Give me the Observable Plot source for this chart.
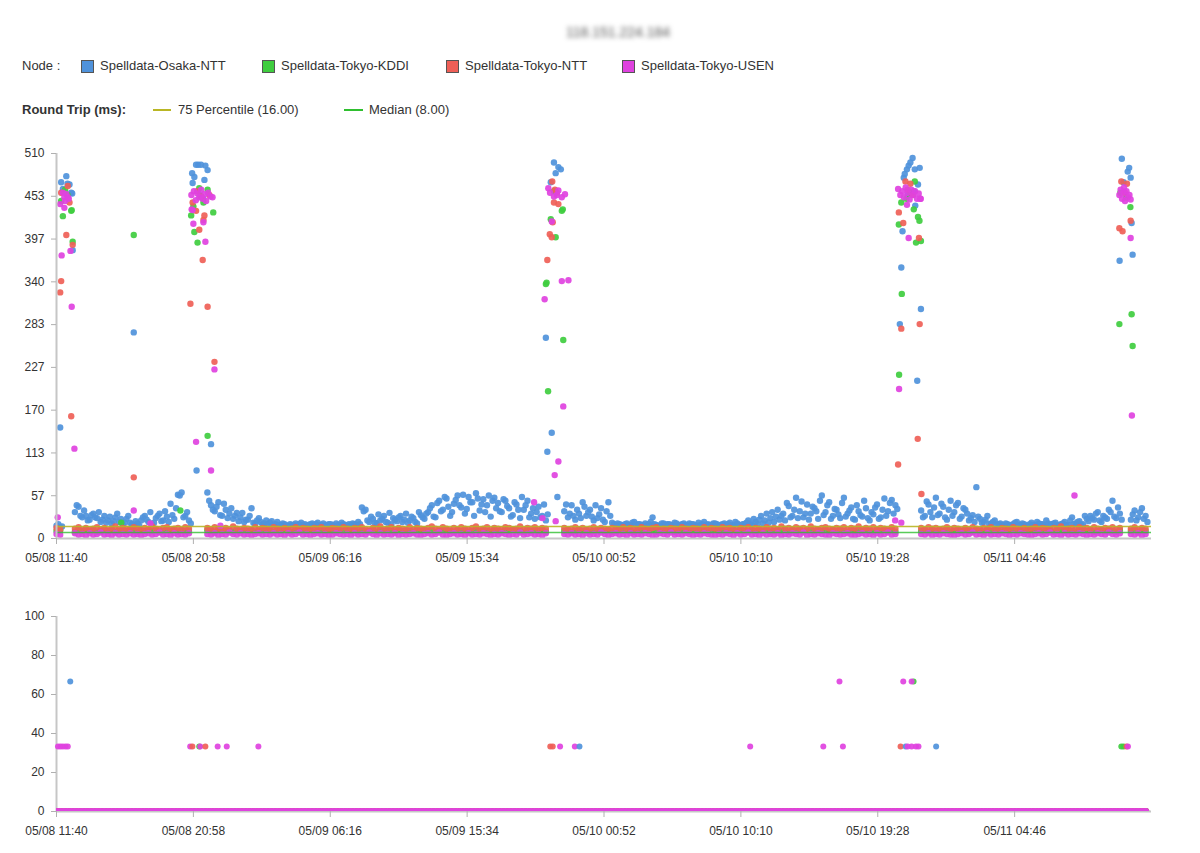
<!DOCTYPE html>
<html>
<head>
<meta charset="utf-8">
<script src="https://cdn.jsdelivr.net/npm/d3@7"></script>
<script src="https://cdn.jsdelivr.net/npm/@observablehq/plot@0.6"></script>
<style>
  body { margin: 0; background: #fff; font-family: "Liberation Sans", Arial, sans-serif; color: #333; }
  #page { position: relative; width: 1200px; height: 853px; overflow: hidden; }
  .abs { position: absolute; white-space: nowrap; }
  #title { left: 566px; top: 24px; font-size: 14px; color: #555; filter: blur(2.4px); }
  .lg { font-size: 13px; line-height: 16px; color: #333; }
  .sw { width: 11px; height: 11px; border: 1px solid #555; }
  .ln { height: 2px; }
  #upper { left: 0; top: 130px; }
  #lower { left: 0; top: 590px; }
</style>
</head>
<body>
<div id="page">
  <div id="title" class="abs">118.151.224.184</div>
  <div id="legend"></div>
  <div id="upper" class="abs"></div>
  <div id="lower" class="abs"></div>
</div>
<script>
// Probe nodes and their colours
const nodes = ["Spelldata-Osaka-NTT", "Spelldata-Tokyo-KDDI", "Spelldata-Tokyo-NTT", "Spelldata-Tokyo-USEN"];
const nodeColors = ["#4f92db", "#3fcd3f", "#ef5f57", "#df42df"];

// Summary statistics of the round trip (ms)
const p75 = 16;
const median = 8;
const p75Color = "#b9b624";
const medianColor = "#2fbf2f";

// Axis ticks
const xTickLabels = ["05/08 11:40", "05/08 20:58", "05/09 06:16", "05/09 15:34", "05/10 00:52", "05/10 10:10", "05/10 19:28", "05/11 04:46"];
const xDomainLabels = ["05/08 11:40", "05/11 14:04"];
const rttTicks = [0, 56.67, 113.33, 170, 226.67, 283.33, 340, 396.67, 453.33, 510];
const lossTicks = [0, 20, 40, 60, 80, 100];

// Round trip samples every 15 minutes (ms); null where the probe sat in a peak window
const sampleStep = 15;
const osakaRtt = [
  17, 15, null, null, null, 35, 42, 28, 30, 25,
  33, 27, 22, 30, 24, 20, 28, 22, 19, 26,
  21, 18, 20, 24, 30, 22, 19, 27, 33, 24,
  29, 46, 26, 58, 61, 30, 24, null, null, null,
  null, 61, 44, 36, 48, 30, 38, 33, 26, 34,
  28, 22, 25, 40, 20, 27, 19, 24, 21, 18,
  22, 18, 19, 17, 18, 20, 19, 18, 17, 19,
  18, 21, 18, 17, 19, 18, 20, 18, 19, 17,
  18, 19, 22, 41, 38, 22, 26, 20, 24, 30,
  21, 19, 25, 28, 22, 33, 24, 27, 20, 31,
  26, 35, 44, 28, 50, 38, 53, 30, 46, 57,
  41, 33, 55, 48, 60, 37, 52, 44, 29, 54,
  47, 35, 50, 40, 31, 45, 27, 38, 50, 33,
  26, 42, 30, 24, null, null, null, null, 36, 28,
  44, 25, 33, 48, 30, 38, 24, 27, 40, 22,
  48, 21, 18, 19, 17, 20, 18, 22, 19, 18,
  20, 19, 28, 18, 17, 20, 19, 18, 21, 17,
  19, 18, 20, 19, 17, 18, 22, 19, 18, 20,
  17, 19, 18, 21, 18, 20, 17, 19, 24, 18,
  22, 25, 20, 33, 27, 22, 38, 30, 24, 43,
  30, 54, 36, 28, 45, 33, 40, 26, 57, 35,
  48, 30, 38, 27, 54, 33, 41, 25, 36, 29,
  40, 24, 32, 45, 28, 53, 36, 51, 44, null,
  null, null, null, null, null, 37, 30, 45, 28, 54,
  33, 42, 25, 50, 35, 47, 29, 38, 24, 31,
  68, 26, 22, 30, 20, 24, 19, 18, 20, 17,
  19, 22, 18, 19, 17, 21, 18, 20, 19, 24,
  18, 20, 17, 19, 22, 18, 28, 20, 23, 19,
  26, 30, 25, 35, 22, 28, 38, 50, 27, 33,
  null, null, 25, 37, 28, 40, 30
];
// Osaka probes a second time in every slot, 7.5 minutes later
const osakaRttLate = [
  19, 16, null, null, null, 44, 30, 37, 24, 31,
  28, 35, 25, 21, 29, 23, 33, 26, 21, 30,
  19, 23, 17, 28, 25, 35, 21, 30, 23, 36,
  22, 31, 40, 57, 28, 35, 20, null, null, null,
  null, 50, 38, 42, 31, 46, 27, 40, 30, 23,
  34, 25, 30, 21, 24, 22, 20, 18, 23, 19,
  18, 20, 17, 19, 18, 17, 21, 19, 18, 20,
  19, 17, 20, 18, 19, 17, 18, 21, 18, 19,
  20, 18, 19, 36, 24, 29, 21, 32, 26, 22,
  34, 27, 23, 30, 25, 21, 29, 22, 35, 28,
  33, 40, 29, 47, 36, 55, 42, 35, 51, 44,
  58, 39, 48, 30, 53, 45, 35, 57, 50, 40,
  36, 52, 43, 29, 48, 38, 55, 44, 28, 40,
  35, 28, 45, 32, null, null, null, null, 45, 33,
  30, 38, 27, 42, 35, 29, 44, 32, 25, 36,
  30, 19, 20, 18, 19, 17, 21, 18, 19, 17,
  18, 22, 19, 17, 20, 18, 19, 17, 20, 18,
  20, 17, 19, 18, 21, 19, 17, 18, 20, 19,
  18, 20, 19, 17, 22, 18, 19, 21, 20, 26,
  19, 30, 24, 21, 35, 29, 25, 33, 47, 28,
  38, 27, 49, 33, 25, 42, 36, 50, 31, 44,
  26, 39, 32, 47, 29, 37, 26, 44, 31, 50,
  27, 35, 41, 26, 38, 30, 47, 33, 39, null,
  null, null, null, null, null, 28, 49, 35, 41, 31,
  46, 28, 38, 30, 44, 26, 40, 33, 27, 22,
  29, 21, 25, 19, 22, 18, 20, 17, 19, 18,
  21, 18, 20, 17, 19, 18, 22, 19, 17, 20,
  19, 21, 18, 20, 17, 24, 19, 22, 18, 30,
  23, 27, 33, 24, 30, 26, 35, 29, 41, 25,
  null, null, 32, 24, 35, 26, 22
];
const kddiRtt = [
  10, 11, null, null, null, 9, 11, 10, 12, 10,
  11, 9, 10, 12, 10, 11, 9, 10, 11, 10,
  12, 10, 9, 11, 10, 12, 10, 11, 9, 10,
  11, 10, 12, 9, 11, 10, 10, null, null, null,
  null, 11, 10, 9, 12, 10, 11, 10, 9, 11,
  10, 12, 10, 11, 9, 10, 11, 12, 10, 9,
  11, 10, 12, 10, 9, 11, 10, 11, 10, 12,
  9, 10, 11, 10, 12, 10, 9, 11, 10, 11,
  10, 12, 9, 11, 10, 10, 11, 9, 12, 10,
  11, 10, 9, 12, 10, 11, 10, 9, 11, 10,
  12, 10, 11, 9, 10, 11, 12, 10, 9, 11,
  10, 11, 9, 10, 12, 10, 11, 10, 9, 12,
  10, 9, 11, 10, 12, 11, 10, 9, 11, 10,
  12, 10, 11, 9, null, null, null, null, 10, 11,
  9, 10, 12, 10, 11, 9, 10, 11, 12, 10,
  11, 9, 10, 12, 10, 11, 10, 9, 11, 10,
  12, 10, 11, 9, 10, 11, 10, 12, 9, 10,
  11, 10, 9, 12, 10, 11, 10, 9, 11, 12,
  10, 11, 9, 10, 12, 10, 11, 10, 9, 11,
  10, 12, 10, 11, 9, 10, 11, 10, 12, 9,
  11, 10, 12, 9, 10, 11, 10, 12, 10, 11,
  9, 11, 10, 12, 10, 9, 11, 10, 11, 10,
  12, 10, 9, 11, 10, 12, 10, 11, 9, null,
  null, null, null, null, null, 10, 11, 9, 12, 10,
  11, 10, 12, 9, 10, 11, 10, 12, 10, 9,
  11, 10, 9, 12, 10, 11, 10, 9, 11, 10,
  12, 10, 11, 9, 10, 12, 10, 11, 9, 10,
  11, 9, 10, 12, 10, 11, 10, 9, 12, 10,
  10, 11, 9, 10, 12, 10, 11, 10, 9, 11,
  null, null, 10, 12, 9, 11, 10
];
const tokyoNttRtt = [
  14, 12, null, null, null, 13, 15, 11, 14, 12,
  13, 15, 12, 14, 11, 13, 16, 12, 14, 13,
  12, 15, 13, 11, 14, 12, 16, 13, 12, 14,
  15, 12, 13, 14, 11, 15, 13, null, null, null,
  null, 14, 12, 15, 13, 11, 14, 12, 16, 13,
  12, 14, 13, 11, 15, 12, 14, 13, 12, 15,
  13, 12, 14, 11, 13, 15, 12, 14, 13, 12,
  14, 13, 15, 12, 11, 14, 13, 12, 15, 13,
  12, 14, 13, 15, 12, 11, 14, 13, 16, 12,
  13, 15, 12, 14, 13, 11, 15, 12, 14, 13,
  12, 14, 16, 13, 12, 15, 13, 11, 14, 12,
  15, 13, 12, 14, 16, 12, 13, 15, 11, 14,
  13, 12, 15, 14, 12, 13, 16, 12, 14, 13,
  15, 12, 14, 13, null, null, null, null, 14, 12,
  13, 15, 12, 14, 11, 13, 15, 12, 14, 13,
  12, 14, 13, 11, 15, 12, 14, 13, 12, 15,
  13, 12, 14, 15, 12, 13, 11, 14, 13, 12,
  15, 13, 12, 14, 13, 11, 15, 12, 14, 13,
  12, 15, 13, 14, 12, 11, 14, 13, 15, 12,
  14, 13, 12, 15, 13, 14, 12, 16, 13, 14,
  12, 15, 13, 14, 12, 16, 13, 12, 14, 15,
  13, 12, 14, 13, 15, 12, 14, 13, 16, 12,
  14, 13, 15, 12, 14, 13, 12, 15, 13, null,
  null, null, null, null, null, 14, 12, 15, 13, 14,
  12, 13, 15, 12, 14, 13, 11, 14, 12, 15,
  13, 12, 14, 13, 15, 12, 11, 14, 13, 12,
  15, 13, 12, 14, 11, 13, 15, 12, 14, 13,
  12, 14, 13, 16, 12, 13, 14, 12, 15, 13,
  14, 12, 15, 13, 12, 14, 13, 15, 12, 14,
  null, null, 13, 15, 12, 14, 13
];
const usenRtt = [
  6, 5, null, null, null, 7, 5, 6, 4, 7,
  5, 6, 8, 5, 6, 4, 7, 5, 6, 5,
  7, 5, 6, 4, 6, 7, 5, 6, 8, 5,
  6, 4, 7, 5, 6, 5, 7, null, null, null,
  null, 6, 5, 7, 4, 6, 5, 8, 6, 5,
  7, 5, 6, 4, 6, 7, 5, 6, 5, 7,
  5, 6, 4, 7, 5, 6, 8, 5, 6, 4,
  6, 7, 5, 6, 4, 5, 7, 6, 5, 6,
  4, 7, 5, 6, 5, 8, 6, 4, 7, 5,
  6, 5, 7, 4, 6, 5, 6, 7, 5, 4,
  6, 7, 5, 6, 8, 5, 4, 6, 7, 5,
  6, 4, 7, 5, 6, 5, 7, 6, 4, 6,
  5, 7, 6, 4, 6, 5, 8, 5, 6, 7,
  5, 6, 4, 7, null, null, null, null, 6, 5,
  7, 5, 6, 4, 7, 5, 6, 5, 8, 6,
  4, 6, 7, 5, 6, 4, 7, 5, 6, 5,
  7, 6, 4, 5, 7, 6, 5, 8, 5, 6,
  5, 7, 6, 4, 6, 5, 7, 6, 5, 4,
  6, 5, 7, 6, 4, 7, 5, 6, 8, 5,
  6, 4, 7, 5, 6, 5, 7, 4, 6, 5,
  7, 6, 5, 8, 4, 6, 5, 7, 6, 5,
  4, 7, 6, 5, 6, 7, 5, 4, 6, 7,
  5, 6, 4, 7, 5, 6, 8, 5, 6, null,
  null, null, null, null, null, 6, 5, 7, 4, 6,
  5, 7, 6, 5, 4, 6, 7, 5, 6, 8,
  5, 6, 4, 7, 5, 6, 5, 7, 6, 4,
  6, 5, 7, 6, 5, 4, 6, 7, 5, 6,
  8, 5, 6, 4, 7, 5, 6, 5, 7, 6,
  4, 6, 5, 7, 6, 5, 8, 6, 5, 7,
  null, null, 6, 5, 7, 4, 6
];

// Individual samples during the peaks and other outliers: [minutes after start, ms]
const osakaPeaks = [
  [15, 147], [19, 472], [26, 463], [40, 480], [45, 470], [53, 469], [60, 458], [64, 457], [66, 382],
  [315, 273],
  [553, 484], [555, 471], [562, 479], [569, 495], [571, 90], [578, 495], [585, 455], [589, 495], [598, 450],
  [603, 475], [607, 494], [616, 488], [630, 125],
  [1995, 266], [2001, 115], [2015, 472], [2019, 140], [2028, 498], [2035, 484], [2042, 55], [2046, 492], [2056, 489],
  [3438, 284], [3444, 359], [3449, 407], [3454, 478], [3458, 483], [3467, 489], [3470, 455], [3474, 494], [3481, 498],
  [3490, 504], [3495, 460], [3499, 489], [3501, 441], [3509, 209], [3512, 469], [3519, 491], [3524, 304],
  [4334, 368], [4343, 503], [4350, 472], [4367, 486], [4373, 491], [4379, 478], [4383, 418], [4387, 376]
];
const kddiPeaks = [
  [19, 447], [26, 427], [35, 462], [45, 455], [60, 434], [62, 435], [66, 393],
  [264, 21], [315, 402], [505, 37],
  [549, 428], [558, 440], [562, 406], [575, 392], [582, 464], [589, 453], [599, 445], [616, 462], [616, 136], [639, 432],
  [1995, 337], [1998, 339], [2004, 195], [2015, 423], [2028, 460], [2035, 399], [2060, 434], [2064, 436], [2066, 263],
  [3434, 416], [3435, 217], [3444, 445], [3446, 324], [3465, 450], [3480, 458], [3495, 436], [3499, 473], [3504, 392],
  [3512, 426], [3518, 421], [3524, 394],
  [4333, 284], [4337, 458], [4360, 452], [4378, 439], [4383, 297], [4387, 255]
];
const tokyoNttPeaks = [
  [15, 326], [19, 341], [19, 458], [40, 402], [46, 467], [53, 445], [60, 162], [66, 389],
  [315, 81],
  [546, 311], [555, 445], [569, 434], [574, 460], [582, 409], [591, 453], [596, 369], [599, 422], [603, 428],
  [616, 307], [623, 455], [644, 234],
  [2001, 369], [2011, 403], [2019, 399], [2021, 473], [2023, 419], [2028, 445], [2032, 462], [2040, 458], [2046, 443],
  [3431, 98], [3434, 432], [3444, 278], [3452, 418], [3461, 473], [3470, 462], [3481, 470], [3490, 455], [3511, 132],
  [3516, 398], [3519, 284], [3526, 59],
  [4333, 411], [4341, 473], [4346, 407], [4355, 458], [4364, 470], [4379, 421]
];
const usenPeaks = [
  [5, 28], [15, 443], [21, 375], [26, 458], [32, 438], [32, 452], [35, 447], [40, 456], [46, 452], [50, 450],
  [57, 381], [62, 307], [73, 119],
  [315, 37], [383, 20], [668, 17],
  [550, 455], [551, 436], [555, 435], [558, 417], [560, 460], [568, 448], [569, 128], [575, 457], [582, 452], [590, 462],
  [596, 450], [599, 419], [603, 456], [607, 393], [610, 447], [618, 458], [628, 453], [630, 90], [636, 452], [644, 224],
  [1947, 48], [1981, 27], [1990, 317], [2005, 464], [2012, 458], [2019, 420], [2028, 453], [2031, 84], [2035, 23],
  [2040, 455], [2046, 461], [2046, 102], [2060, 452], [2060, 341], [2066, 175], [2073, 456], [2087, 342],
  [3419, 24], [3431, 463], [3435, 198], [3440, 455], [3444, 21], [3448, 460], [3455, 452], [3462, 465], [3467, 442],
  [3470, 458], [3474, 398], [3478, 449], [3485, 462], [3492, 455], [3500, 460], [3508, 450], [3515, 457], [3522, 450], [3523, 450],
  [4150, 57],
  [4333, 455], [4338, 462], [4344, 450], [4350, 458], [4352, 465], [4356, 447], [4362, 460], [4368, 452], [4374, 455],
  [4379, 449], [4379, 398], [4384, 163]
];

// Packet loss (%) above zero: [node index, minutes after start, percent]; every other sample lost nothing
const lossEvents = [
  [3, 6, 33.33], [3, 16, 33.33], [3, 26, 33.33], [3, 37, 33.33], [3, 46, 33.33], [0, 56, 66.67],
  [3, 545, 33.33], [2, 554, 33.33], [1, 582, 33.33], [3, 586, 33.33], [2, 607, 33.33], [3, 657, 33.33], [3, 694, 33.33], [3, 823, 33.33],
  [2, 2013, 33.33], [2, 2023, 33.33], [3, 2053, 33.33], [3, 2113, 33.33], [0, 2132, 33.33],
  [3, 2828, 33.33], [3, 3126, 33.33], [3, 3206, 33.33], [3, 3192, 66.67],
  [2, 3441, 33.33], [0, 3462, 33.33], [3, 3470, 33.33], [3, 3486, 33.33], [3, 3504, 33.33], [3, 3514, 33.33], [0, 3586, 33.33],
  [3, 3452, 66.67], [1, 3494, 66.67], [3, 3486, 66.67],
  [1, 4341, 33.33], [1, 4350, 33.33], [2, 4362, 33.33], [3, 4368, 33.33]
];

// ---- build the tables ----
const parseTick = s => d3.timeParse("%Y/%m/%d %H:%M")("2019/" + s);
const fmtTick = d3.timeFormat("%m/%d %H:%M");
const xTicks = xTickLabels.map(parseTick);
const xDomain = xDomainLabels.map(parseTick);
const t0 = xDomain[0];
const at = m => new Date(+t0 + m * 60000);

// each entry: [node index, samples, offset within the slot in minutes]
const baselines = [[0, osakaRtt, 0], [0, osakaRttLate, 7.5], [1, kddiRtt, 0], [2, tokyoNttRtt, 0], [3, usenRtt, 0]];
const peaks = [osakaPeaks, kddiPeaks, tokyoNttPeaks, usenPeaks];

const rtt = [];
const lossZero = [];
nodes.forEach((node, k) => {
  baselines.filter(b => b[0] === k).forEach(([, samples, offset]) => {
    samples.forEach((v, i) => {
      const time = at(i * sampleStep + offset);
      if (v != null) rtt.push({node, time, value: v});
      if (offset === 0) lossZero.push({node, time, value: 0});
    });
  });
  peaks[k].forEach(([m, v]) => rtt.push({node, time: at(m), value: v}));
});
const loss = lossEvents.map(([k, m, v]) => ({node: nodes[k], time: at(m), value: v}));

// ---- legend ----
const legend = document.getElementById("legend");
const add = (html, style, cls) => {
  const el = document.createElement("div");
  el.className = "abs " + (cls || "");
  el.innerHTML = html;
  Object.assign(el.style, style);
  legend.appendChild(el);
  return el;
};
add("Node :", {left: "22px", top: "58px"}, "lg");
const swatchX = [81, 262, 446, 622];
nodes.forEach((n, k) => {
  add("", {left: swatchX[k] + "px", top: "60px", background: nodeColors[k]}, "sw");
  add(n, {left: (swatchX[k] + 19) + "px", top: "58px"}, "lg");
});
add("<b>Round Trip (ms):</b>", {left: "22px", top: "102px"}, "lg");
add("", {left: "153px", top: "109px", width: "18px", background: p75Color}, "ln");
add(`75 Percentile (${p75.toFixed(2)})`, {left: "178px", top: "102px"}, "lg");
add("", {left: "344px", top: "109px", width: "19px", background: medianColor}, "ln");
add(`Median (${median.toFixed(2)})`, {left: "369px", top: "102px"}, "lg");

// ---- charts ----
const color = {domain: nodes, range: nodeColors};
const style = {fontFamily: "'Liberation Sans', Arial, sans-serif", fontSize: "12px", color: "#333", background: "transparent"};
const axisLine = {stroke: "#c6c6c6", strokeWidth: 2};

const upper = Plot.plot({
  width: 1200, height: 440,
  marginLeft: 56, marginRight: 49, marginTop: 23, marginBottom: 32,
  x: {type: "time", domain: xDomain, axis: null},
  y: {domain: [0, 510], axis: null},
  color, style,
  marks: [
    Plot.dot(rtt, {x: "time", y: "value", fill: "node", r: 3.2, fillOpacity: 0.92}),
    Plot.ruleY([p75], {stroke: p75Color, strokeWidth: 1.5, strokeOpacity: 0.9}),
    Plot.ruleY([median], {stroke: medianColor, strokeWidth: 1.5, strokeOpacity: 0.8}),
    Plot.ruleX([t0], axisLine),
    Plot.ruleY([0], axisLine),
    Plot.axisY(rttTicks, {tickSize: 5, tickPadding: 7, tickFormat: d3.format(".0f"), stroke: "#b0b0b0", label: null}),
    Plot.axisX(xTicks, {tickSize: 6, tickPadding: 9, tickFormat: fmtTick, stroke: "#b0b0b0", label: null})
  ]
});
document.getElementById("upper").appendChild(upper);

const lower = Plot.plot({
  width: 1200, height: 262,
  marginLeft: 56, marginRight: 49, marginTop: 26, marginBottom: 41,
  x: {type: "time", domain: xDomain, axis: null},
  y: {domain: [0, 100], axis: null},
  color, style,
  marks: [
    Plot.ruleX([t0], axisLine),
    Plot.ruleY([0], axisLine),
    Plot.dot(lossZero, {x: "time", y: "value", fill: "node", r: 3.6, clip: true}),
    Plot.dot(loss, {x: "time", y: "value", fill: "node", r: 3, fillOpacity: 0.92}),
    Plot.axisY(lossTicks, {tickSize: 5, tickPadding: 7, stroke: "#b0b0b0", label: null}),
    Plot.axisX(xTicks, {tickSize: 6, tickPadding: 9, tickFormat: fmtTick, stroke: "#b0b0b0", label: null})
  ]
});
document.getElementById("lower").appendChild(lower);
</script>
</body>
</html>
